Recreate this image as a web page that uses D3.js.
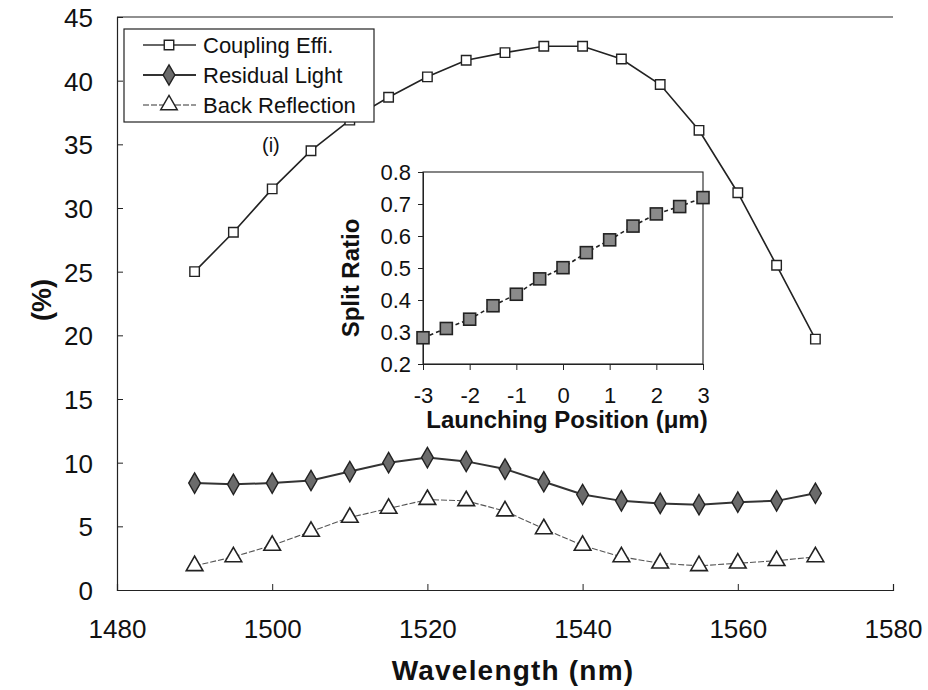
<!DOCTYPE html>
<html>
<head>
<meta charset="utf-8">
<script src="https://cdn.jsdelivr.net/npm/d3@7"></script>
<style>
  body { margin: 0; background: #fff; }
  text { font-family: Arial, "Liberation Sans", sans-serif; fill: #111; }
</style>
</head>
<body>
<svg id="chart" width="928" height="690"></svg>
<script>
// main chart data
const wavelengths = [1490, 1495, 1500, 1505, 1510, 1515, 1520, 1525, 1530, 1535, 1540, 1545, 1550, 1555, 1560, 1565, 1570];
const couplingEff = [25.0, 28.1, 31.5, 34.5, 36.9, 38.7, 40.3, 41.6, 42.2, 42.7, 42.7, 41.7, 39.7, 36.1, 31.2, 25.5, 19.7];
const residualLight = [8.4, 8.3, 8.4, 8.6, 9.3, 10.0, 10.4, 10.1, 9.5, 8.5, 7.5, 7.0, 6.8, 6.7, 6.9, 7.0, 7.6];
const backReflection = [1.9, 2.6, 3.5, 4.6, 5.7, 6.4, 7.1, 7.0, 6.2, 4.8, 3.5, 2.6, 2.1, 1.9, 2.1, 2.3, 2.6];
const xTicks = [1480, 1500, 1520, 1540, 1560, 1580];
const yTicks = [0, 5, 10, 15, 20, 25, 30, 35, 40, 45];

// inset data
const launchPos = [-3, -2.5, -2, -1.5, -1, -0.5, 0, 0.5, 1, 1.5, 2, 2.5, 3];
const splitRatio = [0.282, 0.311, 0.340, 0.382, 0.418, 0.466, 0.501, 0.548, 0.588, 0.631, 0.669, 0.692, 0.720];
const insetXTicks = [-3, -2, -1, 0, 1, 2, 3];
const insetYTicks = [0.2, 0.3, 0.4, 0.5, 0.6, 0.7, 0.8];

const svg = d3.select('#chart');

const x = d3.scaleLinear().domain([1480, 1580]).range([117, 893]);
const y = d3.scaleLinear().domain([0, 45]).range([590, 17]);

// frame: top line + axes
svg.append('line')
  .attr('x1', 117).attr('x2', 893).attr('y1', 17).attr('y2', 17)
  .attr('stroke', '#222').attr('stroke-width', 1.2);

const xAxis = svg.append('g')
  .attr('transform', 'translate(0,590)')
  .call(d3.axisBottom(x).tickValues(xTicks).tickSize(-6).tickPadding(0).tickFormat(d3.format('d')));
const yAxis = svg.append('g')
  .attr('transform', 'translate(117,0)')
  .call(d3.axisLeft(y).tickValues(yTicks).tickSize(-6).tickPadding(24));

[xAxis, yAxis].forEach(ax => {
  ax.select('.domain').attr('stroke', '#222').attr('stroke-width', 1.2);
  ax.selectAll('.tick line').attr('stroke', '#222');
  ax.selectAll('text').attr('font-size', 26).attr('fill', '#111')
    .attr('font-family', 'Arial, "Liberation Sans", sans-serif');
});
xAxis.selectAll('text').attr('y', 48).attr('dy', null);
yAxis.selectAll('text').attr('dy', '0.36em');

svg.append('text')
  .attr('x', 513).attr('y', 680)
  .attr('text-anchor', 'middle')
  .attr('font-size', 28).attr('font-weight', 'bold')
  .attr('letter-spacing', 1.2)
  .text('Wavelength (nm)');

svg.append('text')
  .attr('transform', 'translate(51,300) rotate(-90)')
  .attr('text-anchor', 'middle')
  .attr('font-size', 27).attr('font-weight', 'bold')
  .text('(%)');

const line = vals => d3.line()
  .x((d, i) => x(wavelengths[i]))
  .y(d => y(d))(vals);

// series lines
svg.append('path').attr('d', line(couplingEff))
  .attr('fill', 'none').attr('stroke', '#222').attr('stroke-width', 1.6);
svg.append('path').attr('d', line(residualLight))
  .attr('fill', 'none').attr('stroke', '#333').attr('stroke-width', 2);
svg.append('path').attr('d', line(backReflection))
  .attr('fill', 'none').attr('stroke', '#555').attr('stroke-width', 1.1)
  .attr('stroke-dasharray', '6,2');

const sq = d3.symbol().type(d3.symbolSquare).size(90);
const dia = d3.symbol().type(d3.symbolDiamond).size(120);
const tri = d3.symbol().type(d3.symbolTriangle).size(120);

function markers(vals, path, fill, stroke, sw) {
  svg.append('g').selectAll('path')
    .data(vals).join('path')
    .attr('transform', (d, i) => `translate(${x(wavelengths[i])},${y(d)})`)
    .attr('d', path)
    .attr('fill', fill).attr('stroke', stroke).attr('stroke-width', sw);
}
markers(couplingEff, sq, '#fff', '#222', 1.4);
markers(residualLight, dia, '#6b6b6b', '#222', 1.4);
markers(backReflection, tri, '#fff', '#222', 1.6);

// legend
const lg = svg.append('g');
lg.append('rect')
  .attr('x', 124).attr('y', 29).attr('width', 250).attr('height', 93)
  .attr('fill', '#fff').attr('stroke', '#222').attr('stroke-width', 1.2);
const legendItems = [
  { name: 'Coupling Effi.', sym: sq, fill: '#fff', lw: 1.6, dash: null },
  { name: 'Residual Light', sym: dia, fill: '#6b6b6b', lw: 2, dash: null },
  { name: 'Back Reflection', sym: tri, fill: '#fff', lw: 1.1, dash: '6,2' }
];
legendItems.forEach((it, i) => {
  const cy = 45 + i * 30;
  lg.append('line').attr('x1', 143).attr('x2', 196).attr('y1', cy).attr('y2', cy)
    .attr('stroke', '#333').attr('stroke-width', it.lw)
    .attr('stroke-dasharray', it.dash);
  lg.append('path').attr('d', it.sym)
    .attr('transform', `translate(169,${cy})`)
    .attr('fill', it.fill).attr('stroke', '#222').attr('stroke-width', 1.4);
  lg.append('text').attr('x', 203).attr('y', cy).attr('dy', '0.36em')
    .attr('font-size', 22).text(it.name);
});

svg.append('text')
  .attr('x', 262).attr('y', 152)
  .attr('font-family', '"Liberation Serif", "DejaVu Serif", serif')
  .attr('font-size', 20)
  .text('(i)');

// inset
const ix = d3.scaleLinear().domain([-3, 3]).range([423, 703]);
const iy = d3.scaleLinear().domain([0.2, 0.8]).range([364, 172]);
const inset = svg.append('g');
const hyphen = d => String(d).replace('\u2212', '-');

inset.append('rect')
  .attr('x', 423).attr('y', 172).attr('width', 280).attr('height', 192)
  .attr('fill', '#fff').attr('stroke', '#222').attr('stroke-width', 1.1);

const ixAxis = inset.append('g')
  .attr('transform', 'translate(0,364)')
  .call(d3.axisBottom(ix).tickValues(insetXTicks).tickSize(6).tickPadding(0).tickFormat(d => hyphen(d3.format('d')(d))));
const iyAxis = inset.append('g')
  .attr('transform', 'translate(423,0)')
  .call(d3.axisLeft(iy).tickValues(insetYTicks).tickSize(5).tickPadding(7).tickFormat(d3.format('.1f')));
[ixAxis, iyAxis].forEach(ax => {
  ax.select('.domain').attr('stroke', '#222');
  ax.selectAll('.tick line').attr('stroke', '#222');
  ax.selectAll('text').attr('font-size', 22).attr('fill', '#111')
    .attr('font-family', 'Arial, "Liberation Sans", sans-serif');
});
ixAxis.selectAll('text').attr('y', 39).attr('dy', null);
iyAxis.selectAll('text').attr('dy', '0.36em');

inset.append('text')
  .attr('x', 567).attr('y', 428)
  .attr('text-anchor', 'middle')
  .attr('font-size', 24).attr('font-weight', 'bold')
  .text('Launching Position (\u03bcm)');
inset.append('text')
  .attr('transform', 'translate(359,278) rotate(-90)')
  .attr('text-anchor', 'middle')
  .attr('font-size', 24).attr('font-weight', 'bold')
  .text('Split Ratio');

inset.append('path')
  .attr('d', d3.line().x((d, i) => ix(launchPos[i])).y(d => iy(d))(splitRatio))
  .attr('fill', 'none').attr('stroke', '#222').attr('stroke-width', 1.6)
  .attr('stroke-dasharray', '4,3');

inset.append('g').selectAll('rect')
  .data(splitRatio).join('rect')
  .attr('x', (d, i) => ix(launchPos[i]) - 6)
  .attr('y', d => iy(d) - 6)
  .attr('width', 12).attr('height', 12)
  .attr('fill', '#8a8a8a').attr('stroke', '#222').attr('stroke-width', 1.6);
</script>
</body>
</html>
